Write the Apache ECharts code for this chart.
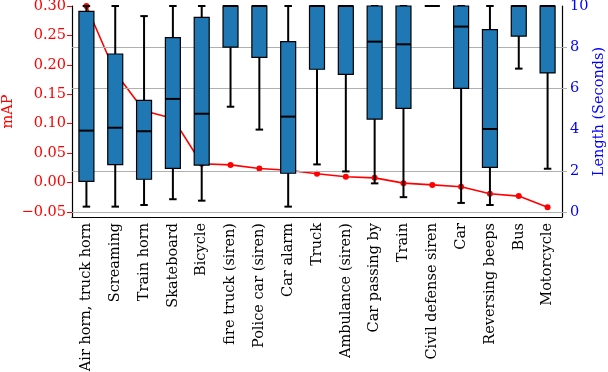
<!DOCTYPE html>
<html>
<head>
<meta charset="utf-8">
<script src="https://cdn.jsdelivr.net/npm/echarts@6/dist/echarts.min.js"></script>
<style>html,body{margin:0;padding:0;background:#fff;}#c{width:608px;height:372px;}</style>
</head>
<body>
<div id="c"></div>
<script>
const categories = ["Air horn, truck horn","Screaming","Train horn","Skateboard","Bicycle","fire truck (siren)","Police car (siren)","Car alarm","Truck","Ambulance (siren)","Car passing by","Train","Civil defense siren","Car","Reversing beeps","Bus","Motorcycle"];
const mAP = [0.300, 0.187, 0.122, 0.109, 0.032, 0.030, 0.024, 0.021, 0.015, 0.010, 0.008, -0.001, -0.004, -0.007, -0.019, -0.023, -0.042];
const whiskerLow  = [0.26, 0.26, 0.34, 0.62, 0.55, 5.11, 4.00, 0.26, 2.31, 1.97, 1.39, 0.72, 10, 0.44, 0.34, 6.96, 2.10];
const q1          = [1.49, 2.30, 1.59, 2.12, 2.28, 8.00, 7.51, 1.88, 6.93, 6.68, 4.51, 5.03, 10, 6.00, 2.17, 8.54, 6.75];
const median      = [3.95, 4.09, 3.92, 5.49, 4.77, 10, 10, 4.63, 10, 10, 8.27, 8.14, 10, 9.00, 4.03, 10, 10];
const q3          = [9.74, 7.67, 5.42, 8.46, 9.45, 10, 10, 8.27, 10, 10, 10, 10, 10, 10, 8.85, 10, 10];
const whiskerHigh = [10, 10, 9.51, 10, 10, 10, 10, 10, 10, 10, 10, 10, 10, 10, 10, 10, 10];
const leftTicks = [-0.05, 0.00, 0.05, 0.10, 0.15, 0.20, 0.25, 0.30];
const rightTicks = [0, 2, 4, 6, 8, 10];
const rightGrid = [0, 2, 6, 8];

const FONT = 'DejaVu Serif';
const FS = 14.5;

const boxData = categories.map((c, i) => [i, whiskerLow[i], q1[i], median[i], q3[i], whiskerHigh[i]]);

function renderBox(params, api) {
  const i = api.value(0);
  const pLow = api.coord([i, api.value(1)]);
  const pQ1 = api.coord([i, api.value(2)]);
  const pMed = api.coord([i, api.value(3)]);
  const pQ3 = api.coord([i, api.value(4)]);
  const pHigh = api.coord([i, api.value(5)]);
  const bw = api.size([1, 0])[0] * 0.52;
  const cw = bw * 0.5;
  const x = pMed[0];
  const black = {stroke: '#000', lineWidth: 2};
  return {
    type: 'group',
    children: [
      {type: 'line', shape: {x1: x, y1: pLow[1], x2: x, y2: pQ1[1]}, style: black},
      {type: 'line', shape: {x1: x, y1: pQ3[1], x2: x, y2: pHigh[1]}, style: black},
      {type: 'line', shape: {x1: x - cw/2, y1: pLow[1], x2: x + cw/2, y2: pLow[1]}, style: black},
      {type: 'line', shape: {x1: x - cw/2, y1: pHigh[1], x2: x + cw/2, y2: pHigh[1]}, style: black},
      {type: 'rect', shape: {x: x - bw/2, y: pQ3[1], width: bw, height: pQ1[1] - pQ3[1]}, style: {fill: '#1f77b4', stroke: '#000', lineWidth: 1.2}},
      {type: 'line', shape: {x1: x - bw/2, y1: pMed[1], x2: x + bw/2, y2: pMed[1]}, style: black}
    ]
  };
}

const chart = echarts.init(document.getElementById('c'), null, {renderer: 'canvas'});
chart.setOption({
  animation: false,
  backgroundColor: '#fff',
  textStyle: {fontFamily: FONT},
  grid: {left: 72, right: 46, top: 6, bottom: 155, containLabel: false, outerBoundsMode: 'none'},
  xAxis: {
    type: 'category',
    data: categories,
    boundaryGap: true,
    axisLine: {onZero: false, lineStyle: {color: '#000', width: 1.2}},
    axisTick: {alignWithLabel: true, length: 4, lineStyle: {color: '#000'}},
    axisLabel: {rotate: 90, interval: 0, margin: 6, color: '#000', fontFamily: FONT, fontSize: FS},
    splitLine: {show: false}
  },
  yAxis: [
    {
      type: 'value', position: 'left', min: -0.0585, max: 0.30,
      name: 'mAP', nameLocation: 'middle', nameGap: 56, nameMoveOverlap: false,
      nameTextStyle: {color: '#ff0000', fontFamily: FONT, fontSize: FS},
      axisLine: {show: true, onZero: false, lineStyle: {color: '#000', width: 1.2}},
      axisTick: {show: true, length: 5, customValues: leftTicks, lineStyle: {color: '#ff0000'}},
      axisLabel: {customValues: leftTicks, margin: 6, color: '#ff0000', fontFamily: FONT, fontSize: FS,
        formatter: v => (v < -1e-9 ? '\u2212' : '') + Math.abs(v).toFixed(2)},
      splitLine: {show: false}
    },
    {
      type: 'value', position: 'right', min: -0.243, max: 10,
      name: 'Length (Seconds)', nameLocation: 'middle', nameGap: 30, nameMoveOverlap: false,
      nameTextStyle: {color: '#0000ff', fontFamily: FONT, fontSize: FS},
      axisLine: {show: true, onZero: false, lineStyle: {color: '#000', width: 1.2}},
      axisTick: {show: true, length: 5, customValues: rightGrid, lineStyle: {color: '#b0b0b0'}},
      axisLabel: {customValues: rightTicks, margin: 8, color: '#0000ff', fontFamily: FONT, fontSize: FS,
        formatter: v => String(Math.round(v))},
      splitLine: {show: false}
    }
  ],
  series: [
    {
      type: 'line', yAxisIndex: 1, data: [], z: 0, silent: true,
      markLine: {silent: true, symbol: 'none', label: {show: false},
        lineStyle: {color: '#b0b0b0', type: 'solid', width: 1},
        data: rightGrid.map(v => ({yAxis: v}))}
    },
    {
      type: 'line', yAxisIndex: 0, data: mAP, z: 1,
      symbol: 'circle', symbolSize: 6, showAllSymbol: true,
      lineStyle: {color: '#ff0000', width: 1.6},
      itemStyle: {color: '#ff0000'}
    },
    {
      type: 'custom', yAxisIndex: 1, data: boxData, z: 5, zlevel: 1,
      encode: {x: 0, y: [1, 2, 3, 4, 5]},
      renderItem: renderBox
    }
  ]
});
</script>
</body>
</html>
